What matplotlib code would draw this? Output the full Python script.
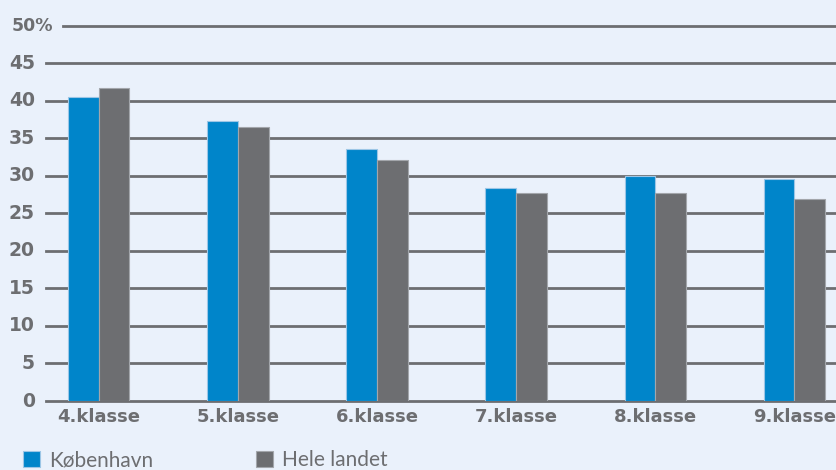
import numpy as np
import matplotlib
matplotlib.use("Agg")
import matplotlib.pyplot as plt
import matplotlib.transforms as mtransforms

plt.rcParams["font.family"] = ["Lato", "DejaVu Sans"]

# data
klasser = ["4.klasse", "5.klasse", "6.klasse", "7.klasse", "8.klasse", "9.klasse"]
kobenhavn = [40.5, 37.3, 33.6, 28.4, 30.0, 29.6]
hele_landet = [41.7, 36.5, 32.1, 27.7, 27.7, 26.9]
yticks = [0, 5, 10, 15, 20, 25, 30, 35, 40, 45, 50]

bg = "#eaf1fb"
blue = "#0085ca"
grey = "#6d6e71"
txt = "#6d6e71"
tickfont = dict(family="DejaVu Sans", fontweight="bold", color=txt)

fig = plt.figure(figsize=(8.36, 4.70), dpi=100, facecolor=bg)
ax = fig.add_axes([0.055, 0.1468, 0.945, 0.7985])
ax.set_facecolor(bg)

x = np.arange(len(klasser))
w = 0.22

# gridlines
for t in yticks:
    xmin = 0.0215 if t == 50 else 0
    ax.axhline(t, xmin=xmin, xmax=1, color=grey, lw=2.0, zorder=1, clip_on=False)

b1 = ax.bar(x - w / 2, kobenhavn, w, color=blue, edgecolor="#9cc6e6", lw=0.8, zorder=2, label="København")
b2 = ax.bar(x + w / 2, hele_landet, w, color=grey, edgecolor="#a3a6ab", lw=0.8, zorder=2, label="Hele landet")

ax.set_xlim(-0.38, 5.30)
ax.set_ylim(0, 50)
for s in ax.spines.values():
    s.set_visible(False)
ax.set_yticks([])
ax.set_xticks(x)
ax.set_xticklabels(klasser, fontsize=13, **tickfont)
ax.tick_params(axis="x", length=0, pad=5)

# y labels
trans = mtransforms.blended_transform_factory(ax.transAxes, ax.transData)
for t in yticks:
    if t == 50:
        ax.text(0.0089, t, "50%", transform=trans, ha="right", va="center",
                fontsize=12.5, **tickfont)
    else:
        ax.text(-0.0139, t, str(t), transform=trans, ha="right", va="center",
                fontsize=13.5, **tickfont)

leg = fig.legend(handles=[b1, b2], loc="lower left", bbox_to_anchor=(0.005, -0.04),
                 ncol=2, frameon=False, fontsize=15, handlelength=0.82, handleheight=0.82,
                 handletextpad=0.45, columnspacing=4.9, labelcolor=txt)

fig.savefig("out.png", dpi=100, facecolor=bg)
